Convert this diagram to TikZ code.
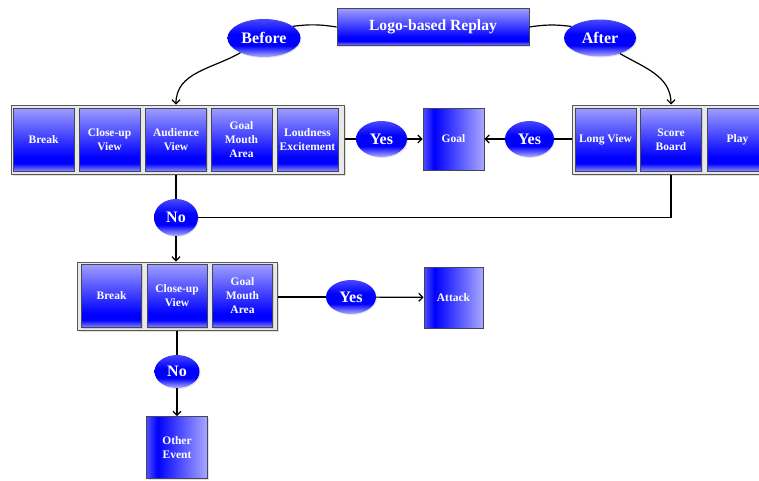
\documentclass[tikz,border=0pt]{standalone}
\usepackage{fontspec}
\setmainfont{Liberation Serif}
\usetikzlibrary{shapes.geometric,shadows,arrows.meta}

\definecolor{boxtop}{RGB}{158,158,255}
\definecolor{boxblue}{RGB}{0,0,255}
\definecolor{boxlow}{RGB}{140,140,255}
\definecolor{ovaltop}{RGB}{72,72,255}
\definecolor{ovallow}{RGB}{176,176,255}
\definecolor{sideleft}{RGB}{80,80,255}
\definecolor{sideright}{RGB}{168,168,255}
\definecolor{edgegray}{RGB}{70,70,90}
\definecolor{framefill}{RGB}{232,232,232}

\pgfdeclareverticalshading{boxshade}{100bp}{color(0bp)=(boxlow); color(25bp)=(boxlow); color(31bp)=(boxblue); color(36bp)=(boxblue); color(75bp)=(boxtop); color(100bp)=(boxtop)}
\pgfdeclareverticalshading{ovalshade}{100bp}{color(0bp)=(ovallow); color(25bp)=(ovallow); color(40bp)=(boxblue); color(55bp)=(boxblue); color(75bp)=(ovaltop); color(100bp)=(ovaltop)}
\pgfdeclarehorizontalshading{sideshade}{100bp}{color(0bp)=(sideleft); color(25bp)=(sideleft); color(34bp)=(boxblue); color(75bp)=(sideright); color(100bp)=(sideright)}

\tikzset{
  tile/.style={draw=edgegray, line width=0.8pt, shade, shading=boxshade,
    minimum width=61pt, minimum height=63pt, inner sep=1pt, align=center, text=white,
    font=\fontsize{11.5}{14}\selectfont\bfseries,
    drop shadow={opacity=0.25,shadow xshift=1pt,shadow yshift=-1pt}},
  endbox/.style={tile, shading=sideshade, minimum height=62pt},
  oval/.style={ellipse, shade, shading=ovalshade, inner sep=0pt, text=white,
    font=\fontsize{16}{18}\selectfont\bfseries,
    drop shadow={opacity=0.2,shadow xshift=1pt,shadow yshift=-1pt}},
  frame/.style={draw=gray!70!black, fill=framefill, line width=1pt, minimum height=69pt,
    drop shadow={opacity=0.25,shadow xshift=1.5pt,shadow yshift=-1.5pt}},
  link/.style={line width=1.2pt, black},
  arrow/.style={link, -{Straight Barb[length=4pt,width=8pt]}}
}

\begin{document}
\begin{tikzpicture}[x=1pt,y=1pt]
	\useasboundingbox (0,0) rectangle (759,-480);
	\clip (0,0) rectangle (759,-480);
	% title and branches
	\node[tile, minimum width=192pt, minimum height=37pt, font=\fontsize{15.6}{18}\selectfont\bfseries] (title) at (433,-27) {Logo-based Replay};
	\node[oval, minimum width=73pt, minimum height=38pt] (before) at (264,-38) {Before};
	\node[oval, minimum width=72pt, minimum height=37pt] (after) at (600,-38) {After};

	% first row, left group
	\node[frame, minimum width=333pt] (grpA) at (177.5,-139.5) {};
	\node[tile] (brk1) at (43.5,-139.5) {Break};
	\node[tile] (cls1) at (109.5,-139.5) {Close-up\\View};
	\node[tile] (aud1) at (176,-139.5) {Audience\\View};
	\node[tile] (gma1) at (241.5,-139.5) {Goal\\Mouth\\Area};
	\node[tile] (loud1) at (307.5,-139.5) {Loudness\\Excitement};

	% first row, right group
	\node[frame, minimum width=199pt] (grpB) at (671.5,-139.5) {};
	\node[tile] (long) at (605.5,-139.5) {Long View};
	\node[tile] (score) at (671,-139.5) {Score\\Board};
	\node[tile] (play) at (737.5,-139.5) {Play};

	\node[endbox] (goal) at (453.5,-139) {Goal};
	\node[oval, minimum width=51pt, minimum height=36pt] (yes1) at (381.5,-139) {Yes};
	\node[oval, minimum width=49pt, minimum height=36pt] (yes2) at (529.5,-139) {Yes};
	\node[oval, minimum width=44pt, minimum height=37pt] (no1) at (176,-217.5) {No};

	% second row
	\node[frame, minimum width=200pt, minimum height=68pt] (grpC) at (177,-296) {};
	\node[tile, minimum width=60pt] (brk2) at (111.5,-296) {Break};
	\node[tile, minimum width=60pt] (cls2) at (177,-296) {Close-up\\View};
	\node[tile, minimum width=60pt] (gma2) at (242.5,-296) {Goal\\Mouth\\Area};
	\node[oval, minimum width=50pt, minimum height=34pt] (yes3) at (351,-297) {Yes};
	\node[endbox, minimum width=59pt, minimum height=61pt] (attack) at (453.5,-297.5) {Attack};
	\node[oval, minimum width=45pt, minimum height=33pt] (no2) at (177,-371.5) {No};
	\node[endbox] (other) at (177,-447.5) {Other\\Event};

	% connectors
	\draw[link] (title.west) to[bend right=8] (before.22);
	\draw[arrow] (before.212) to[out=210,in=90] (grpA.north -| aud1);
	\draw[link] (title.east) to[bend left=8] (after.158);
	\draw[arrow] (after.322) to[out=-30,in=90] (grpB.north -| score);

	\draw[link] (grpA.east |- yes1) -- (yes1);
	\draw[arrow] (yes1) -- (goal);
	\draw[link] (grpB.west |- yes2) -- (yes2);
	\draw[arrow] (yes2) -- (goal);

	\draw[link] (grpA.south -| aud1) -- (no1);
	\draw[link] (no1.east) -| (grpB.south -| score);
	\draw[arrow] (no1.south) -- (no1.south |- grpC.north);

	\draw[link] (grpC.east |- yes3) -- (yes3);
	\draw[arrow] (yes3) -- (attack);
	\draw[link] (grpC.south -| no2) -- (no2);
	\draw[arrow] (no2) -- (other);
\end{tikzpicture}
\end{document}
